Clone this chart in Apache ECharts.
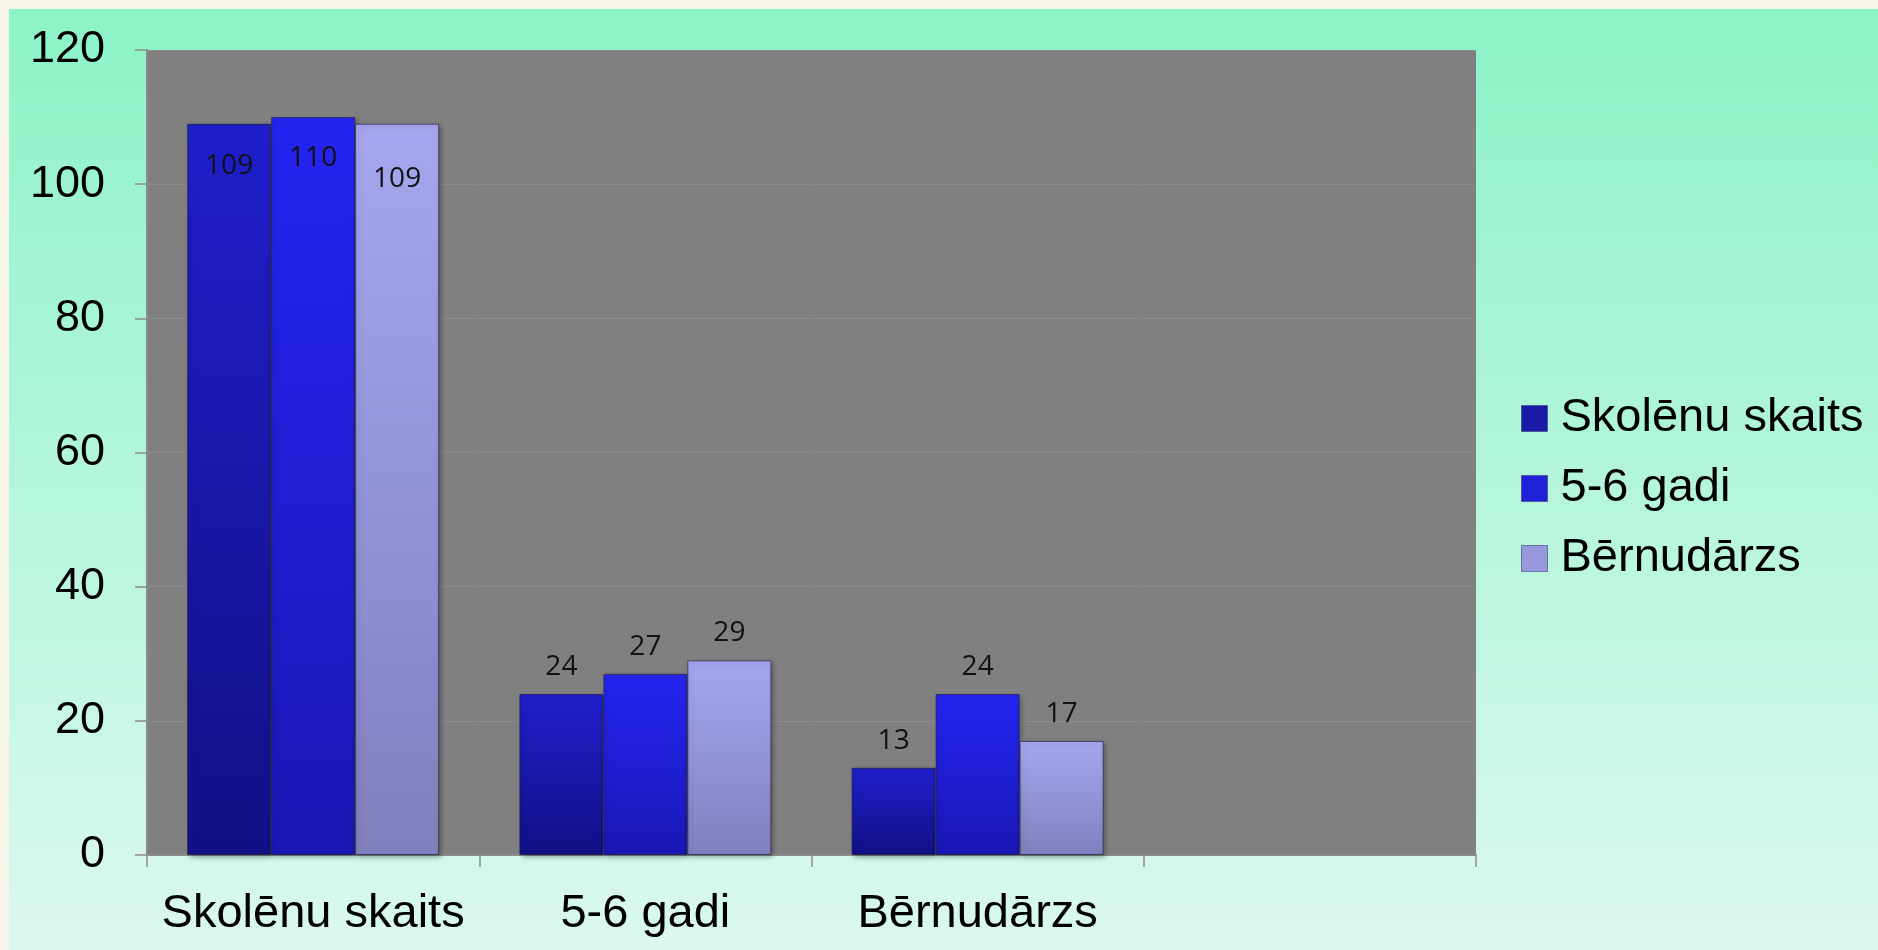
<!DOCTYPE html>
<html>
<head>
<meta charset="utf-8">
<script src="https://cdn.jsdelivr.net/npm/echarts@6/dist/echarts.min.js"></script>
<style>
  html, body { margin: 0; padding: 0; background: #f7f4ea; width: 1878px; height: 950px; overflow: hidden; }
  #chart { position: absolute; left: 9px; top: 9px; width: 1869px; height: 941px; }
</style>
</head>
<body>
<div id="chart"></div>
<script>
const categories = ['Skolēnu skaits', '5-6 gadi', 'Bērnudārzs', ''];
const seriesNames = ['Skolēnu skaits', '5-6 gadi', 'Bērnudārzs'];
const skolenuSkaits = [109, 24, 13, null];
const gadi56 = [110, 27, 24, null];
const bernudarzs = [109, 29, 17, null];
const yTicks = { min: 0, max: 120, interval: 20 };

const seriesValues = [skolenuSkaits, gadi56, bernudarzs];
const palettes = [
  { top: '#1f1fcc', bottom: '#111186', icon: '#1a1aa8' },
  { top: '#2424f2', bottom: '#1818b4', icon: '#2020d8' },
  { top: '#a6a6f0', bottom: '#8080be', icon: '#9898dc' }
];
// first-group labels sit inside the bar top (as in reference), others above
const insideDist = [28, 27, 41];

const chart = echarts.init(document.getElementById('chart'), null, { renderer: 'canvas' });

const series = seriesValues.map((vals, si) => ({
  name: seriesNames[si],
  type: 'bar',
  barWidth: 84,
  barGap: '0%',
  data: vals.map((v, ci) => ({
    value: v,
    label: ci === 0
      ? { position: 'insideTop', distance: insideDist[si] }
      : { position: 'top', distance: 13 }
  })),
  itemStyle: {
    color: new echarts.graphic.LinearGradient(0, 0, 0, 1, [
      { offset: 0, color: palettes[si].top },
      { offset: 1, color: palettes[si].bottom }
    ]),
    borderColor: 'rgba(20,20,60,0.55)',
    borderWidth: 1,
    shadowColor: 'rgba(0,0,0,0.35)',
    shadowBlur: 5,
    shadowOffsetX: 2,
    shadowOffsetY: 2
  },
  label: {
    show: true,
    color: '#111',
    fontFamily: 'Open Sans',
    fontSize: 28
  }
}));

chart.setOption({
  backgroundColor: new echarts.graphic.LinearGradient(0, 0, 0, 1, [
    { offset: 0, color: '#8cf3c8' },
    { offset: 1, color: '#dbf8ee' }
  ]),
  animation: false,
  grid: {
    left: 138, top: 41, width: 1329, height: 805,
    show: true, backgroundColor: '#808080', borderWidth: 0
  },
  legend: {
    orient: 'vertical',
    left: 1507,
    top: 381,
    itemWidth: 26,
    itemHeight: 26,
    itemGap: 23,
    icon: 'rect',
    textStyle: { fontFamily: 'Liberation Sans', fontSize: 47, color: '#000', padding: [0, 0, 0, 8] },
    data: seriesNames.map((n, i) => ({
      name: n,
      itemStyle: { color: palettes[i].icon, borderColor: 'rgba(60,60,120,0.6)', borderWidth: 1 }
    }))
  },
  xAxis: {
    type: 'category',
    data: categories,
    boundaryGap: true,
    axisLine: { show: true, lineStyle: { color: '#8c8c8c', width: 2 } },
    axisTick: { show: true, interval: 0, length: 12, inside: false, lineStyle: { color: '#8c8c8c', width: 1.5 } },
    axisLabel: { interval: 0, fontFamily: 'Liberation Sans', fontSize: 47, color: '#000', margin: 36 },
    splitLine: { show: false }
  },
  yAxis: {
    type: 'value',
    min: yTicks.min,
    max: yTicks.max,
    interval: yTicks.interval,
    axisLine: { show: true, lineStyle: { color: '#8c8c8c', width: 2 } },
    axisTick: { show: true, length: 12, lineStyle: { color: '#8c8c8c', width: 1.5 } },
    axisLabel: { fontFamily: 'Liberation Sans', fontSize: 45, color: '#000', margin: 42 },
    splitLine: { show: true, lineStyle: { color: '#8a8a8a', width: 1 } }
  },
  series: series
});
</script>
</body>
</html>
